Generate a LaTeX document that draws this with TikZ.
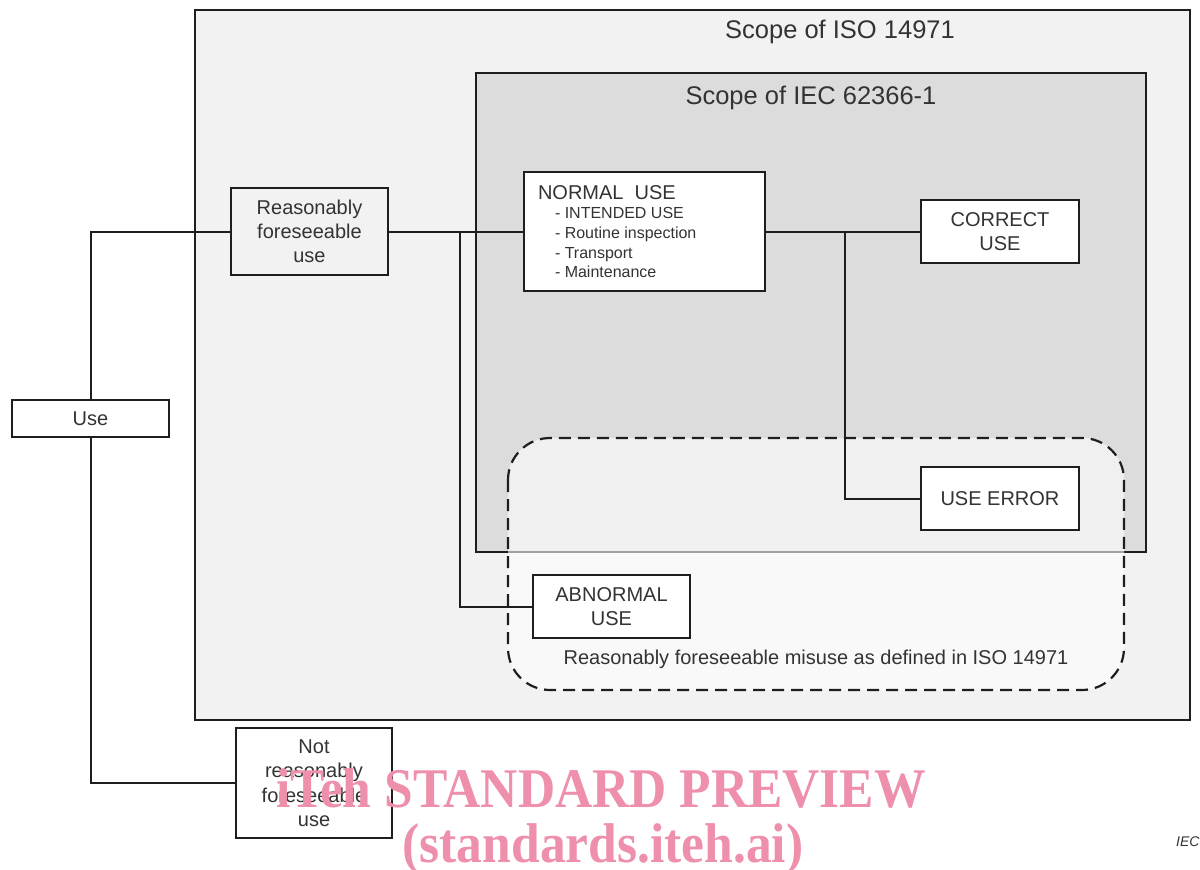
\documentclass[tikz,border=0pt]{standalone}
\usepackage{fontspec}
\setmainfont{Liberation Sans}
\newfontfamily\wmserif{Liberation Serif}
\newcommand\sz[2]{\fontsize{#1}{#2}\selectfont}
\definecolor{isofill}{HTML}{F2F2F2}
\definecolor{iecfill}{HTML}{DCDCDD}
\definecolor{ink}{HTML}{1E1E1E}
\definecolor{txt}{HTML}{333333}
\definecolor{wmpink}{HTML}{EE8FAB}
\tikzset{
  box/.style={draw=ink, line width=2pt, fill=white, text=txt, align=center,
              inner sep=0pt, font=\sz{20}{24}},
  wire/.style={draw=ink, line width=2pt},
  scopebox/.style={draw=ink, line width=2.2pt},
  title/.style={text=txt, font=\sz{25.5}{30}},
  watermark/.style={text=wmpink, font=\wmserif\bfseries\sz{56}{60}, xscale=0.92},
}
\begin{document}
\begin{tikzpicture}[x=1pt, y=-1pt]
\useasboundingbox (0,0) rectangle (1200,870);

% scope frames
\draw[scopebox, fill=isofill] (195,10) rectangle (1190,720);
\draw[scopebox, fill=iecfill] (476,73) rectangle (1146,552);
\node[title] (isot) at (840,32) {Scope of ISO 14971};
\node[title] (iect) at (811,98) {Scope of IEC 62366-1};

% region of reasonably foreseeable misuse
\draw[ink, line width=2.2pt, dash pattern=on 12pt off 7pt, fill=white,
      fill opacity=0.58, rounded corners=42pt] (508,438) rectangle (1124,690);

% boxes
\node[box, minimum width=157pt, minimum height=37pt] (use) at (90.5,418.5) {Use};
\node[box, fill=isofill, minimum width=157pt, minimum height=87pt] (rfu) at (309.5,231.5)
  {Reasonably\\foreseeable\\use};
\node[box, minimum width=156pt, minimum height=110pt, font=\sz{20}{24.5}] (nrfu) at (314,783)
  {Not\\reasonably\\foreseeable\\use};
\node[box, minimum width=241pt, minimum height=119pt, align=left, inner xsep=14pt,
      inner ysep=0pt] (normal) at (644.5,231.5)
  {\parbox{213pt}{\raggedright
     \sz{20}{19.7}NORMAL\ \ USE\par
     \sz{16}{19.7}\leftskip=17pt
     - INTENDED USE\par
     - Routine inspection\par
     - Transport\par
     - Maintenance\par}};
\node[box, minimum width=158pt, minimum height=63pt] (correct) at (1000,231.5) {CORRECT\\USE};
\node[box, minimum width=158pt, minimum height=63pt] (uerr) at (1000,498.5) {USE ERROR};
\node[box, minimum width=157pt, minimum height=63pt] (abn) at (611.5,606.5) {ABNORMAL\\USE};

% connectors
\coordinate (b1) at (460,0);
\coordinate (b2) at (845,0);
\draw[wire] (use.north) |- (rfu.west);
\draw[wire] (use.south) |- (nrfu.west);
\draw[wire] (rfu.east) -- (normal.west);
\draw[wire] (b1 |- rfu.east) |- (abn.west);
\draw[wire] (normal.east) -- (correct.west);
\draw[wire] (b2 |- normal.east) |- (uerr.west);

\node[text=txt, font=\sz{20}{24}] (misuse) at (816,659)
  {Reasonably foreseeable misuse as defined in ISO 14971};

% figure tag and preview stamp
\node[text=txt, font=\sz{14}{16}\itshape, anchor=west, inner sep=0pt] (tag) at (1176,842) {IEC};
\node[watermark] (wm1) at (601,788) {iTeh STANDARD PREVIEW};
\node[watermark] (wm2) at (603,849) {(standards.iteh.ai)};
\end{tikzpicture}
\end{document}
